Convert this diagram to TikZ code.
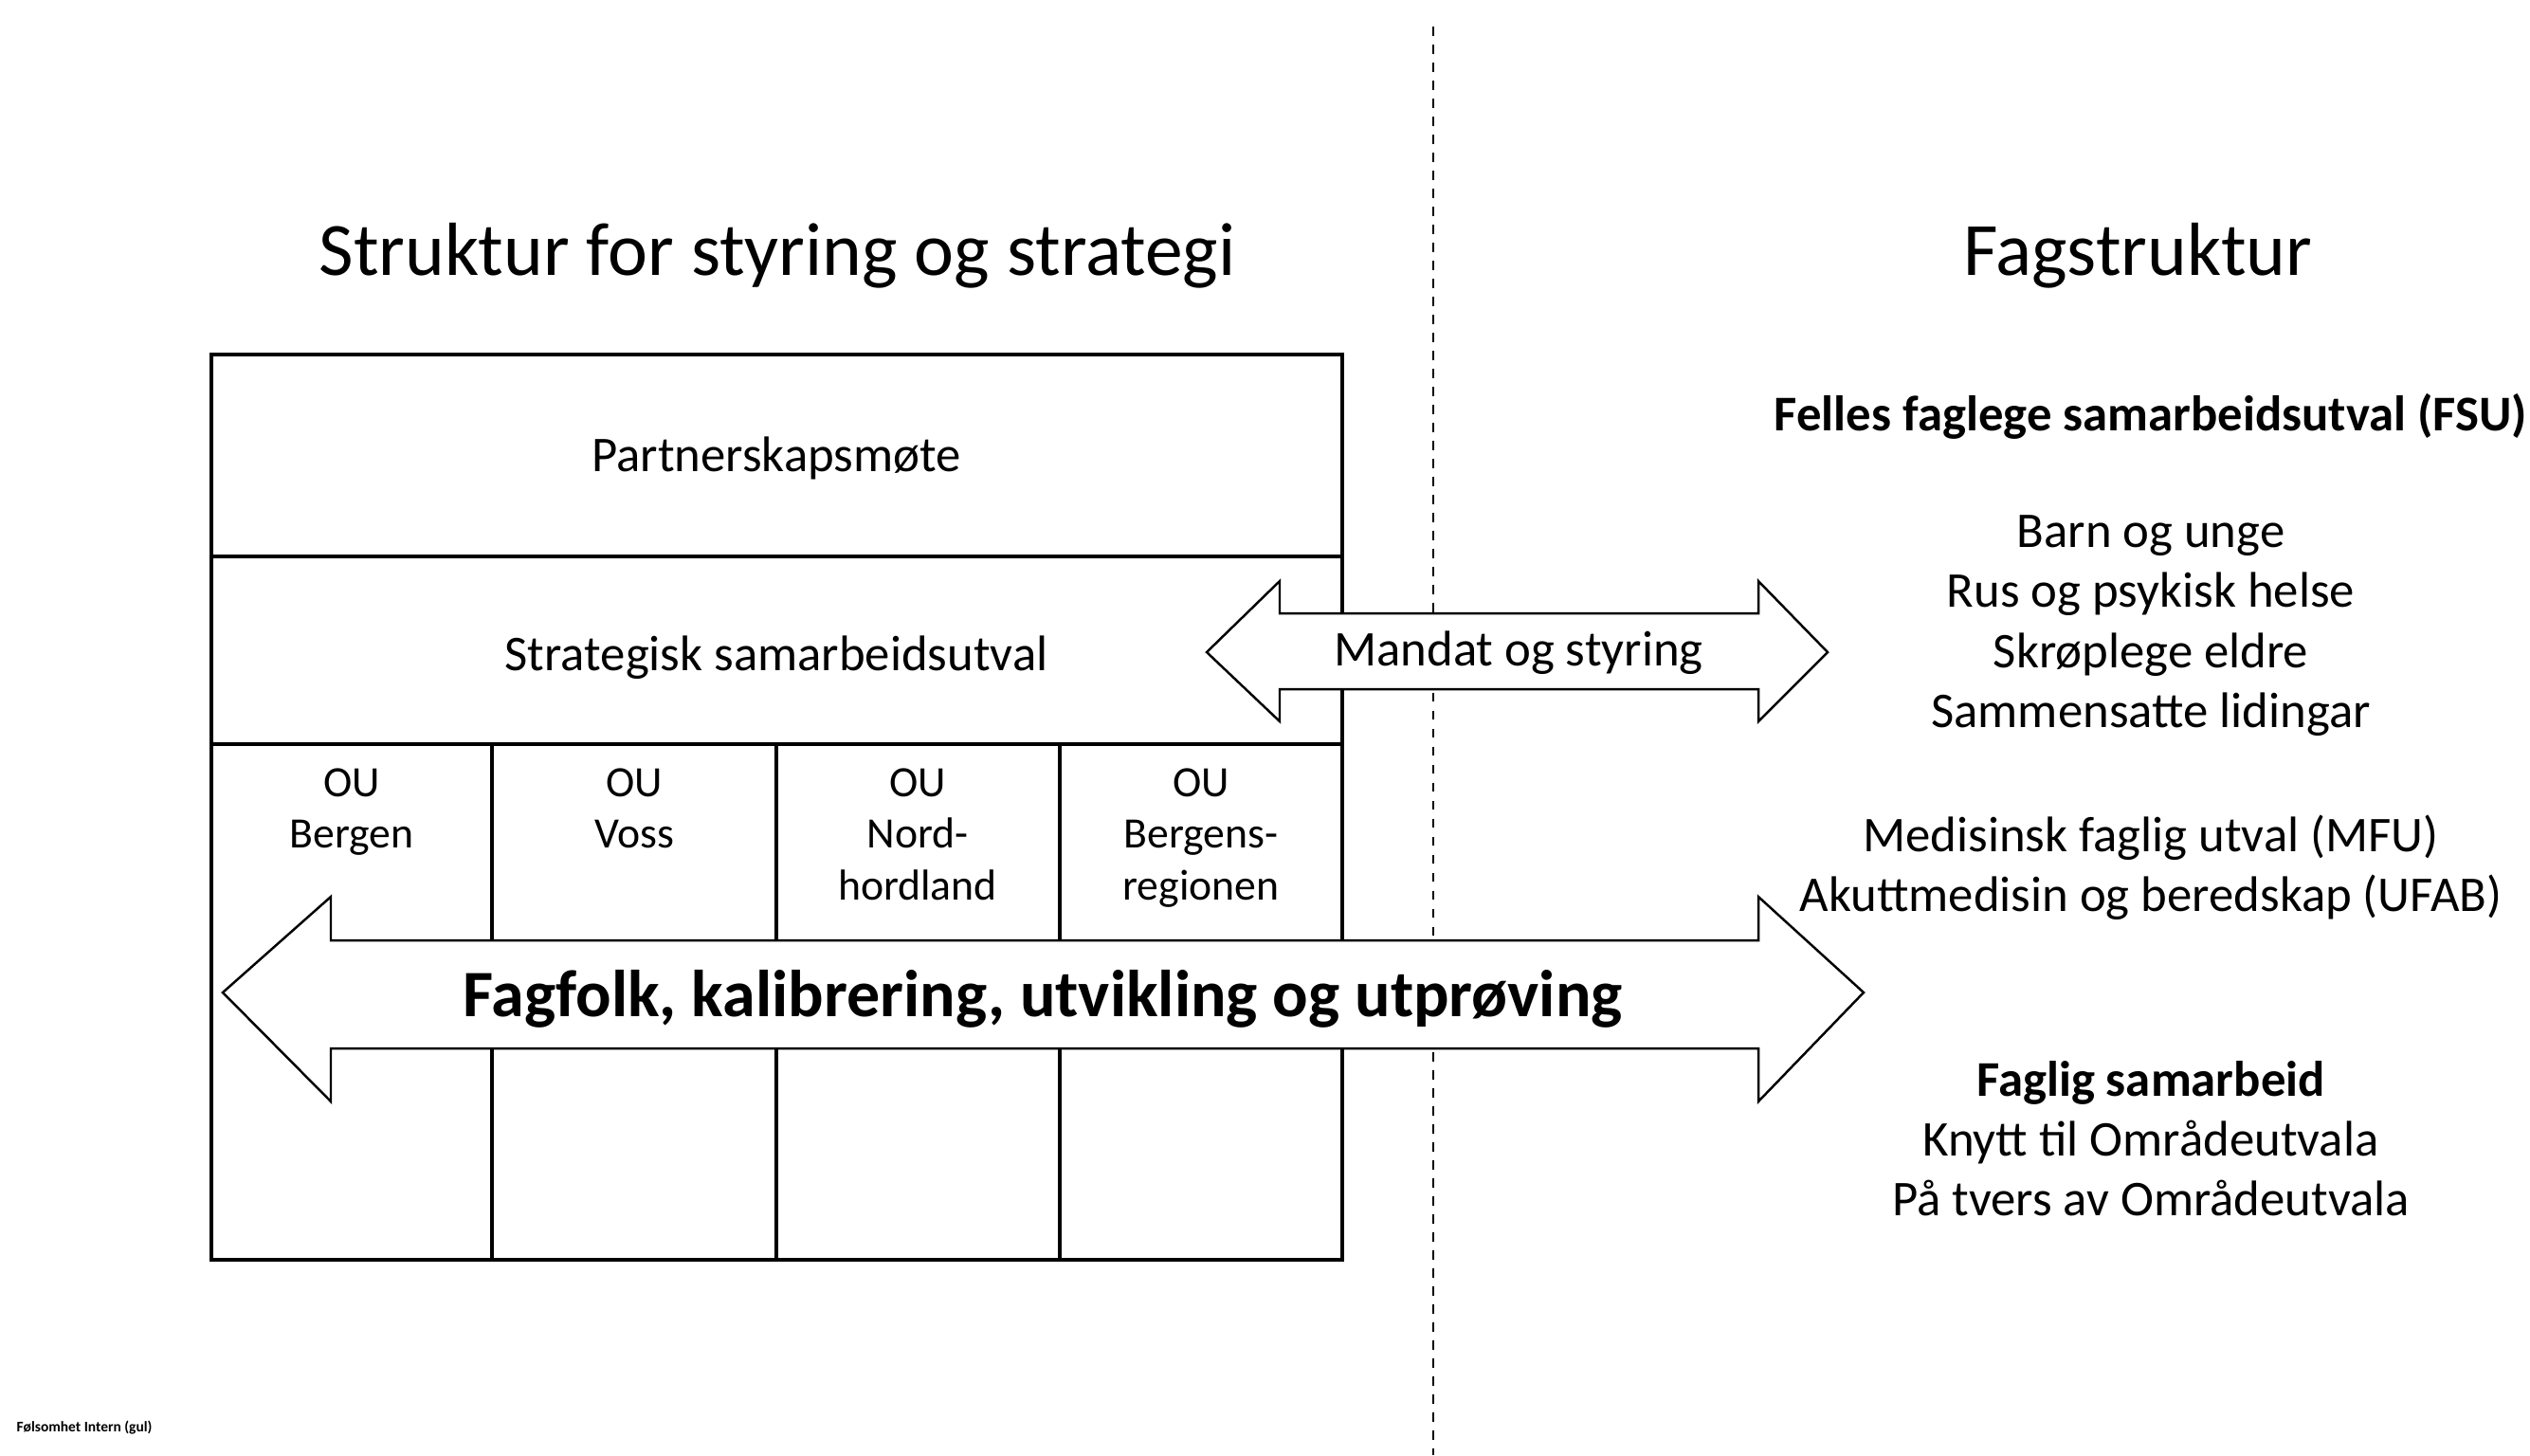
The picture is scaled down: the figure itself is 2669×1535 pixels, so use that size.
\documentclass[tikz,border=0pt]{standalone}
\usepackage{fontspec}
\setmainfont{Carlito}
\usepackage{tikz}

\tikzset{
  cell/.style={line width=1.1pt},
  divider/.style={line width=0.6pt, dash pattern=on 2.8pt off 2.6pt},
  fatarrow/.style={draw, fill=white, line width=0.7pt, line join=miter},
  headtxt/.style={font=\fontsize{22.6}{27}\selectfont, anchor=base},
  txt/.style={font=\fontsize{15}{18}\selectfont, align=center},
  outxt/.style={font=\fontsize{13}{15.5}\selectfont, align=center, anchor=north, inner sep=0pt},
}

\begin{document}
\begin{tikzpicture}[x=0.01cm, y=-0.01cm]
     \useasboundingbox (0,0) rectangle (2669,1535);
     \coordinate (D1) at (1512,28);
     \coordinate (D2) at (1512,1535);
     \draw[divider] (D1) -- (D2);

     \draw[cell] (223,374) rectangle (1416,1329);
     \draw[cell] (223,587) -- (1416,587);
     \draw[cell] (223,785) -- (1416,785);
     \foreach \x in {519,819,1118}
          \draw[cell] (\x,785) -- (\x,1329);

     \draw[fatarrow] (1273,688) -- (1350,613) -- (1350,647) -- (1855,647) -- (1855,613) -- (1928,688)
          -- (1855,761) -- (1855,727) -- (1350,727) -- (1350,761) -- cycle;
     \draw[fatarrow] (235,1047) -- (349,946) -- (349,992) -- (1855,992) -- (1855,946) -- (1966,1047)
          -- (1855,1162) -- (1855,1106) -- (349,1106) -- (349,1162) -- cycle;

     \node[headtxt] (struktur) at (820,290) {Struktur for styring og strategi};
     \node[headtxt] (fagstruktur) at (2255,290) {Fagstruktur};

     \node[txt] (partner) at (819,483) {Partnerskapsmøte};
     \node[txt] (strategisk) at (819,694) {Strategisk samarbeidsutval};
     \node[outxt] (ouBergen) at (371,810) {OU\\Bergen};
     \node[outxt] (ouVoss) at (669,810) {OU\\Voss};
     \node[outxt] (ouNord) at (968,810) {OU\\Nord-\\hordland};
     \node[outxt] (ouRegion) at (1267,810) {OU\\Bergens-\\regionen};

     \node[txt, anchor=base] (mandat) at (1602,702) {Mandat og styring};
     \node[font=\fontsize{19.9}{24}\selectfont\bfseries, anchor=base] (fagfolk) at (1100,1072)
          {Fagfolk, kalibrering, utvikling og utprøving};

     \node[txt, font=\fontsize{15}{18}\selectfont\bfseries] (fsu) at (2269,439) {Felles faglege samarbeidsutval (FSU)};
     \node[txt] (fsulist) at (2269,660) {Barn og unge\\Rus og psykisk helse\\Skrøplege eldre\\Sammensatte lidingar};
     \node[txt] (mfu) at (2269,915) {Medisinsk faglig utval (MFU)\\Akuttmedisin og beredskap (UFAB)};
     \node[txt] (samarbeid) at (2269,1201) {\textbf{Faglig samarbeid}\\Knytt til Områdeutvala\\På tvers av Områdeutvala};

     \node[font=\fontsize{4.4}{5}\selectfont\bfseries, anchor=west, inner sep=0pt] (footer) at (17,1506) {Følsomhet Intern (gul)};
\end{tikzpicture}
\end{document}
